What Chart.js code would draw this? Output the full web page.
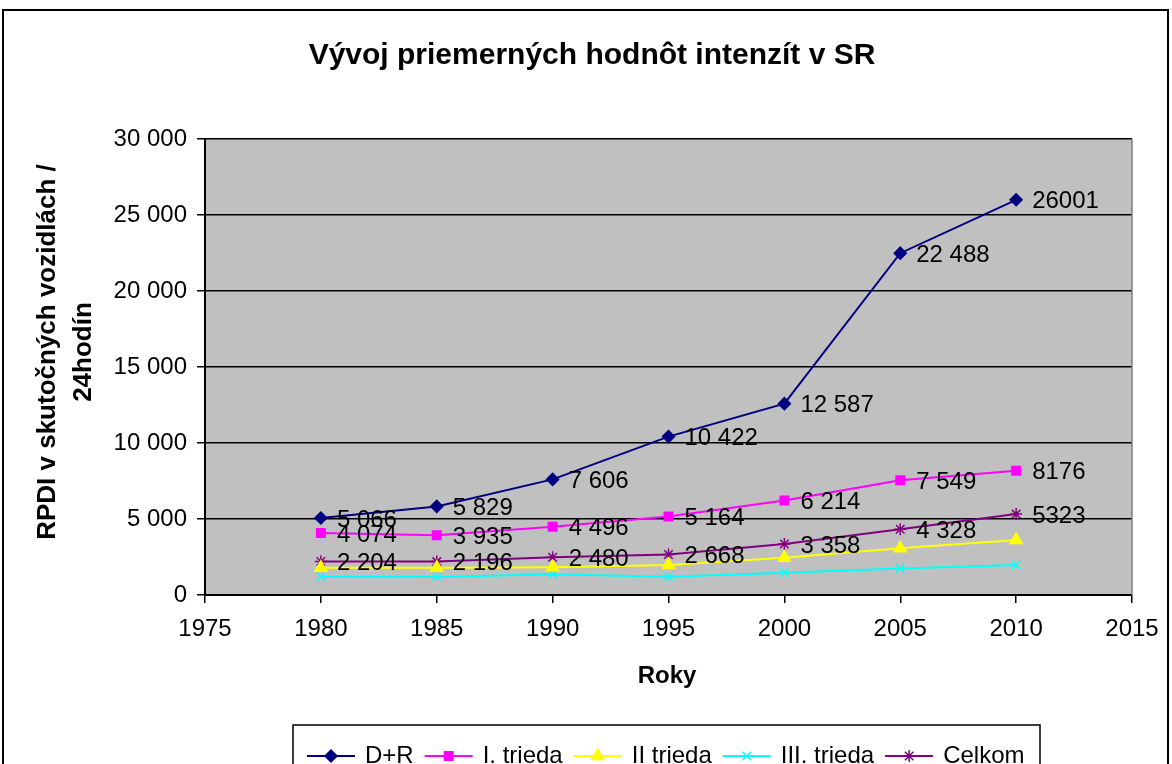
<!DOCTYPE html>
<html>
<head>
<meta charset="utf-8">
<script src="https://cdn.jsdelivr.net/npm/chart.js@4"></script>
<style>
  body { margin: 0; background: #fff; }
  #wrap { position: relative; width: 1172px; height: 764px; overflow: hidden; }
</style>
</head>
<body>
<div id="wrap"><canvas id="chart"></canvas></div>
<script>
const years = [1980, 1985, 1990, 1995, 2000, 2005, 2010];

const dr = [5066, 5829, 7606, 10422, 12587, 22488, 26001];
const trieda1 = [4074, 3935, 4496, 5164, 6214, 7549, 8176];
const trieda2 = [1800, 1800, 1820, 1970, 2450, 3070, 3620];
const trieda3 = [1200, 1180, 1360, 1200, 1470, 1750, 1970];
const celkom = [2204, 2196, 2480, 2668, 3358, 4328, 5323];

const drLabels = ["5 066", "5 829", "7 606", "10 422", "12 587", "22 488", "26001"];
const trieda1Labels = ["4 074", "3 935", "4 496", "5 164", "6 214", "7 549", "8176"];
const celkomLabels = ["2 204", "2 196", "2 480", "2 668", "3 358", "4 328", "5323"];

const seriesNames = ["D+R", "I. trieda", "II trieda", "III. trieda", "Celkom"];

const FONT = "'Liberation Sans', Arial, sans-serif";

const toPoints = (vals) => vals.map((v, i) => ({ x: years[i], y: v }));

const makeSet = (label, vals, color, style, radius, labels) => ({
  label,
  data: toPoints(vals),
  showLine: true,
  borderColor: color,
  backgroundColor: color,
  borderWidth: 2,
  pointStyle: style,
  pointRadius: radius,
  pointBorderColor: color,
  pointBackgroundColor: color,
  pointBorderWidth: 1.5,
  valueLabels: labels,
});

const datasets = [
  makeSet(seriesNames[0], dr, "#000080", "rectRot", 6, drLabels),
  makeSet(seriesNames[1], trieda1, "#FF00FF", "rect", 6, trieda1Labels),
  makeSet(seriesNames[2], trieda2, "#FFFF00", "triangle", 7, null),
  makeSet(seriesNames[3], trieda3, "#00FFFF", "crossRot", 6, null),
  makeSet(seriesNames[4], celkom, "#800080", "star", 6, celkomLabels),
];

const backgroundPlugin = {
  id: "backgroundPlugin",
  beforeDraw: (chart) => {
    const { ctx, chartArea } = chart;
    ctx.save();
    ctx.fillStyle = "#ffffff";
    ctx.fillRect(0, 0, chart.width, chart.height);
    ctx.fillStyle = "#C0C0C0";
    ctx.fillRect(chartArea.left, chartArea.top,
      chartArea.right - chartArea.left, chartArea.bottom - chartArea.top);
    ctx.restore();
  },
};

const valueLabelPlugin = {
  id: "valueLabelPlugin",
  afterDatasetsDraw: (chart) => {
    const { ctx } = chart;
    ctx.save();
    ctx.font = "24px " + FONT;
    ctx.fillStyle = "#000";
    ctx.textBaseline = "middle";
    ctx.textAlign = "left";
    chart.data.datasets.forEach((ds, di) => {
      if (!ds.valueLabels) return;
      const meta = chart.getDatasetMeta(di);
      meta.data.forEach((pt, i) => {
        ctx.fillText(ds.valueLabels[i], pt.x + 16, pt.y + 2);
      });
    });
    ctx.restore();
  },
};

const decorPlugin = {
  id: "decorPlugin",
  afterDraw: (chart) => {
    const { ctx, chartArea } = chart;
    ctx.save();

    // plot area right edge
    ctx.strokeStyle = "#808080";
    ctx.lineWidth = 1.5;
    ctx.beginPath();
    ctx.moveTo(chartArea.right, chartArea.top);
    ctx.lineTo(chartArea.right, chartArea.bottom);
    ctx.stroke();

    // title
    ctx.fillStyle = "#000";
    ctx.textAlign = "center";
    ctx.textBaseline = "middle";
    ctx.font = "bold 30px " + FONT;
    ctx.fillText("Vývoj priemerných hodnôt intenzít v SR", 592, 56);

    // x axis title
    ctx.font = "bold 24px " + FONT;
    ctx.fillText("Roky", 667, 676);

    // y axis title
    ctx.save();
    ctx.translate(66, 352);
    ctx.rotate(-Math.PI / 2);
    ctx.font = "bold 26px " + FONT;
    ctx.fillText("RPDI v skutočných vozidlách /", 0, -18);
    ctx.fillText("24hodín", 0, 18);
    ctx.restore();

    // legend
    ctx.fillStyle = "#fff";
    ctx.fillRect(293, 725, 747, 60);
    ctx.strokeStyle = "#000";
    ctx.lineWidth = 1.5;
    ctx.strokeRect(293, 725, 747, 60);
    ctx.font = "24px " + FONT;
    ctx.textAlign = "left";
    let x = 307;
    const y = 756;
    chart.data.datasets.forEach((ds) => {
      ctx.strokeStyle = ds.borderColor;
      ctx.lineWidth = 2;
      ctx.beginPath();
      ctx.moveTo(x, y);
      ctx.lineTo(x + 48, y);
      ctx.stroke();
      ctx.fillStyle = ds.pointBackgroundColor;
      ctx.strokeStyle = ds.pointBorderColor;
      ctx.lineWidth = 1.5;
      Chart.helpers.drawPoint(ctx, { pointStyle: ds.pointStyle, radius: ds.pointRadius, borderWidth: 1.5 }, x + 24, y);
      ctx.fillStyle = "#000";
      ctx.fillText(ds.label, x + 58, y);
      x += 58 + ctx.measureText(ds.label).width + 11;
    });

    // outer frame
    ctx.strokeStyle = "#000";
    ctx.lineWidth = 2;
    ctx.strokeRect(3, 10, 1165, 800);
    ctx.restore();
  },
};

const fmt = (v) => String(v).replace(/\B(?=(\d{3})+(?!\d))/g, " ");

new Chart(document.getElementById("chart").getContext("2d"), {
  type: "scatter",
  data: { datasets },
  options: {
    responsive: true,
    maintainAspectRatio: false,
    animation: false,
    layout: { padding: { left: 0, top: 139, right: 40, bottom: 0 } },
    plugins: {
      legend: { display: false },
      title: { display: false },
      tooltip: { enabled: false },
    },
    scales: {
      x: {
        type: "linear",
        min: 1975,
        max: 2015,
        afterFit: (scale) => { scale.height = 169; },
        ticks: {
          stepSize: 5,
          color: "#000",
          font: { family: FONT, size: 24 },
          padding: 12,
          callback: (v) => String(v),
        },
        grid: {
          drawOnChartArea: false,
          drawTicks: true,
          tickLength: 8,
          color: "#000",
          lineWidth: 1.5,
        },
        border: { color: "#000", width: 2 },
      },
      y: {
        min: 0,
        max: 30000,
        afterFit: (scale) => { scale.width = 205; },
        ticks: {
          stepSize: 5000,
          color: "#000",
          font: { family: FONT, size: 24 },
          padding: 10,
          callback: (v) => fmt(v),
        },
        grid: {
          color: "#000",
          lineWidth: 1.5,
          tickLength: 8,
        },
        border: { color: "#000", width: 2 },
      },
    },
  },
  plugins: [backgroundPlugin, valueLabelPlugin, decorPlugin],
});
</script>
</body>
</html>
